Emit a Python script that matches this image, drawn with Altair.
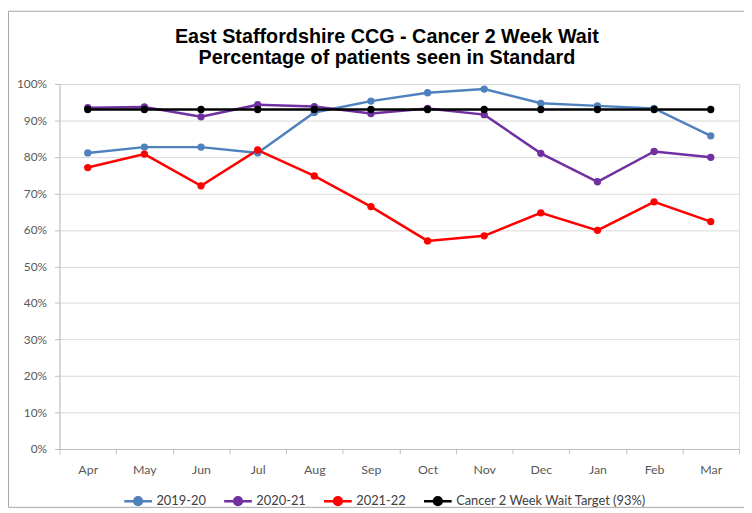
import altair as alt
import pandas as pd

months = ["Apr", "May", "Jun", "Jul", "Aug", "Sep", "Oct", "Nov", "Dec", "Jan", "Feb", "Mar"]
s2019 = [81.1, 82.7, 82.7, 81.1, 92.2, 95.3, 97.6, 98.6, 94.7, 94.0, 93.3, 85.8]
s2020 = [93.5, 93.7, 91.0, 94.3, 93.8, 91.9, 93.3, 91.6, 81.0, 73.2, 81.5, 79.9]
s2021 = [77.1, 80.8, 72.1, 81.9, 74.8, 66.4, 57.0, 58.4, 64.7, 59.9, 67.7, 62.3]
target = [93.0] * 12

series_names = ["2019-20", "2020-21", "2021-22", "Cancer 2 Week Wait Target (93%)"]
series_colors = ["#4f81bd", "#7030a0", "#ff0000", "#000000"]

title_lines = ["East Staffordshire CCG - Cancer 2 Week Wait", "Percentage of patients seen in Standard"]

rows = []
for name, vals in zip(series_names, [s2019, s2020, s2021, target]):
    for m, v in zip(months, vals):
        rows.append({"month": m, "value": v, "series": name})
df = pd.DataFrame(rows)

PL, PT = 52, 74
W, H = 687, 369

color = alt.Color(
    "series:N",
    scale=alt.Scale(domain=series_names, range=series_colors),
    legend=alt.Legend(
        title=None,
        orient="none",
        legendX=64,
        legendY=406,
        direction="horizontal",
        symbolType="M -1 0 H 1 M 0.28 0 A 0.28 0.28 0 1 1 -0.28 0 A 0.28 0.28 0 1 1 0.28 0 Z",
        symbolSize=784,
        symbolStrokeWidth=2.5,
        labelFont="Lato",
        labelFontSize=13,
        labelColor="#404040",
        labelOffset=3,
        columnPadding=12,
        labelLimit=400,
    ),
)

x = alt.X(
    "month:N",
    sort=months,
    scale=alt.Scale(type="band", paddingInner=0, paddingOuter=0),
    axis=alt.Axis(
        title=None,
        labelAngle=0,
        tickBand="extent",
        tickSize=5,
        labelPadding=10,
        grid=False,
        domainColor="#bfbfbf",
        tickColor="#bfbfbf",
        labelFont="Lato",
        labelFontSize=12.5,
        labelColor="#595959",
    ),
)
y = alt.Y(
    "value:Q",
    scale=alt.Scale(domain=[0, 100], nice=False),
    axis=alt.Axis(
        title=None,
        values=list(range(0, 101, 10)),
        labelExpr="datum.value + '%'",
        tickSize=5,
        labelPadding=8,
        gridColor="#d9d9d9",
        domainColor="#bfbfbf",
        tickColor="#bfbfbf",
        labelFont="Lato",
        labelFontSize=12,
        labelColor="#595959",
    ),
)

lines = alt.Chart(df).mark_line(strokeWidth=2.5).encode(x=x, y=y, color=color)
points = alt.Chart(df).mark_point(filled=True, size=55, opacity=1).encode(x=x, y=y, color=color)

one = pd.DataFrame({"a": [0]})
border = alt.Chart(one).mark_rect(fill=None, stroke="#a6a6a6", strokeWidth=1).encode(
    x=alt.value(-PL + 0.5), x2=alt.value(692.5), y=alt.value(-73.5), y2=alt.value(428)
)

title_df = pd.DataFrame({"line": title_lines, "dy": [-47, -26]})
title = alt.Chart(title_df).mark_text(
    font="Liberation Sans", fontSize=20, fontWeight="bold", color="#000000",
    align="center", baseline="middle"
).encode(
    text="line:N",
    x=alt.value(331),
    y=alt.Y("dy:Q", scale=None),
)

chart = alt.layer(border, title, lines, points).properties(
    width=W,
    height=H,
    autosize=alt.AutoSizeParams(type="none"),
    padding={"left": PL, "top": PT, "right": 5, "bottom": 70},
).configure_view(stroke=None).configure(background="white")

chart.save("out.html", embed_options={"renderer": "svg", "actions": False})
